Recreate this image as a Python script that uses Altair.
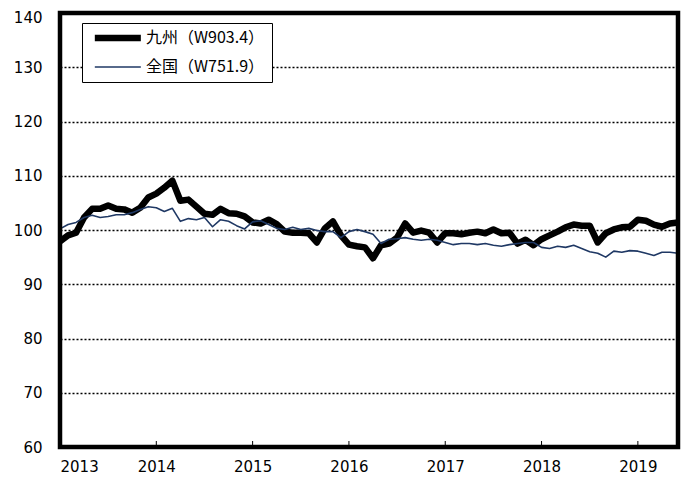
import altair as alt
import pandas as pd

# ---- data (monthly index, Jan 2013 .. Jun 2019) ----
start_year = 2013
kyushu = [97.9, 99.0, 99.5, 102.3, 103.9, 103.9, 104.5, 103.9, 103.8, 103.2,
          104.1, 106.0, 106.7, 107.8, 109.1, 105.4, 105.6, 104.3, 103.0, 102.8,
          103.9, 103.1, 103.0, 102.5, 101.4, 101.2, 101.9, 101.1, 99.7, 99.5,
          99.5, 99.4, 97.7, 100.3, 101.6, 99.0, 97.3, 97.0, 96.8, 94.8,
          97.2, 97.5, 98.6, 101.2, 99.5, 99.9, 99.5, 97.7, 99.4, 99.4,
          99.2, 99.5, 99.7, 99.4, 100.1, 99.4, 99.5, 97.5, 98.2, 97.2,
          98.3, 99.0, 99.7, 100.5, 101.0, 100.8, 100.8, 97.7, 99.4, 100.1,
          100.5, 100.6, 101.9, 101.7, 101.0, 100.6, 101.2, 101.4]
zenkoku = [100.2, 101.0, 101.4, 102.3, 102.7, 102.3, 102.5, 102.8, 102.8, 103.2,
           103.8, 104.3, 104.1, 103.4, 104.0, 101.6, 102.1, 101.9, 102.3, 100.6,
           101.9, 101.6, 100.8, 100.2, 101.5, 101.7, 101.0, 100.3, 100.1, 100.5,
           100.1, 100.3, 99.9, 99.7, 99.7, 98.6, 99.7, 100.1, 99.7, 99.2,
           97.5, 98.3, 98.4, 98.6, 98.3, 98.1, 98.3, 98.1, 97.7, 97.3,
           97.5, 97.5, 97.3, 97.5, 97.2, 97.0, 97.3, 97.5, 97.7, 97.7,
           96.8, 96.6, 97.0, 96.8, 97.2, 96.6, 96.0, 95.7, 95.0, 96.1,
           95.9, 96.2, 96.1, 95.7, 95.3, 95.9, 95.9, 95.7]
series_names = ["九州（W903.4）", "全国（W751.9）"]
series_colors = ["#000000", "#1F3864"]
series_widths = [6.5, 1.6]
year_ticks = [2013, 2014, 2015, 2016, 2017, 2018, 2019]
y_ticks = [60, 70, 80, 90, 100, 110, 120, 130, 140]

rows = []
for i, v in enumerate(kyushu):
    rows.append({"t": start_year + i / 12, "value": v, "series": series_names[0]})
for i, v in enumerate(zenkoku):
    rows.append({"t": start_year + i / 12, "value": v, "series": series_names[1]})
df = pd.DataFrame(rows)
n_months = len(kyushu) - 1

W, H = 618, 434
FONT = "DejaVu Sans"

x_scale = alt.Scale(domain=[start_year, start_year + n_months / 12], nice=False, zero=False)

# long horizontal stroke symbol drawn to the right of its (small) layout box
legend = alt.Legend(
    title=None, orient="none", legendX=22, legendY=10,
    symbolType="M-1,0H10", symbolSize=70, symbolOffset=2,
    labelFont="Noto Sans CJK JP", labelFontSize=16, labelColor="black",
    strokeColor="black", fillColor="white",
    padding=7, labelLimit=400, labelOffset=39, rowPadding=8,
)

lines = alt.Chart(df).mark_line(strokeJoin="round").encode(
    x=alt.X("t:Q", scale=x_scale,
            axis=alt.Axis(values=year_ticks, format="d", grid=False, ticks=False,
                          domain=False, labelFont=FONT, labelFontSize=15,
                          labelColor="black", labelPadding=12, labelOverlap=False,
                          title=None)),
    y=alt.Y("value:Q", scale=alt.Scale(domain=[60, 140], nice=False, zero=False),
            axis=alt.Axis(values=y_ticks, grid=True, gridColor="black",
                          gridDash=[2, 2], gridWidth=1.3, ticks=False, domain=False,
                          labelFont=FONT, labelFontSize=15, labelColor="black",
                          labelPadding=18, labelOverlap=False, title=None,
                          labelOffset={"condition": {"test": "datum.value == 140", "value": 4},
                                       "value": 0})),
    color=alt.Color("series:O", scale=alt.Scale(domain=series_names, range=series_colors),
                    legend=legend),
    strokeWidth=alt.StrokeWidth("series:O", scale=alt.Scale(domain=series_names, range=series_widths),
                                legend=legend),
    order=alt.Order("t:Q"),
)

ticks = alt.Chart(pd.DataFrame({"t": year_ticks[1:]})).mark_rule(
    color="black", strokeWidth=1
).encode(x=alt.X("t:Q", scale=x_scale), y=alt.value(H), y2=alt.value(H - 6))

frame = alt.Chart(pd.DataFrame({"f": [0]})).mark_rect(
    fill="transparent", stroke="black", strokeWidth=4.5
).encode(x=alt.value(0), x2=alt.value(W), y=alt.value(0), y2=alt.value(H))

chart = alt.layer(lines, ticks, frame).properties(
    width=W, height=H,
    autosize=alt.AutoSizeParams(type="none"),
    padding={"left": 52, "top": 5, "right": 3, "bottom": 30},
    background="white",
).configure_view(stroke=None)

chart.save("out.html", embed_options={"renderer": "svg", "actions": False})
